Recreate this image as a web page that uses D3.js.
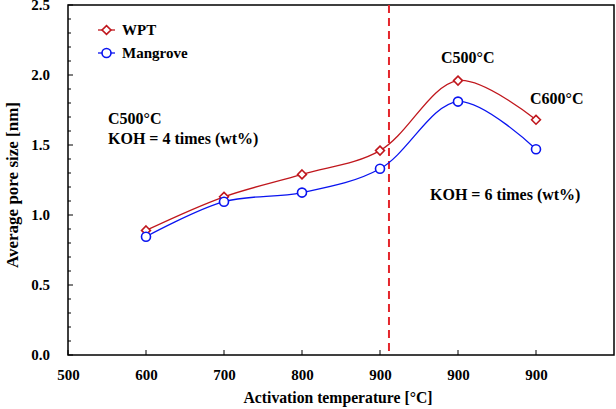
<!DOCTYPE html>
<html><head><meta charset="utf-8">
<script src="https://cdn.jsdelivr.net/npm/d3@7"></script>
<style>body{margin:0;background:#fff}svg{display:block}text{font-family:"Liberation Serif","Times New Roman",serif;font-weight:bold}</style>
</head><body>
<svg id="c" width="616" height="409"></svg>
<script>
const xValues = [600, 700, 800, 900, 1000, 1100];
const wpt = [0.89, 1.13, 1.29, 1.46, 1.96, 1.68];
const mangrove = [0.845, 1.095, 1.16, 1.33, 1.81, 1.47];
const xTickValues = [500, 600, 700, 800, 900, 1000, 1100];
const xTickLabels = ["500", "600", "700", "800", "900", "900", "900"];
const yTickValues = [0, 0.5, 1.0, 1.5, 2.0, 2.5];
const dividerX = 911.5;

const svg = d3.select("#c");
const L = 68, R = 614, T = 5, B = 355;
const x = d3.scaleLinear().domain([500, 1200]).range([L, R]);
const y = d3.scaleLinear().domain([0, 2.5]).range([B, T]);

// frame
svg.append("rect").attr("x", L).attr("y", T).attr("width", R - L).attr("height", B - T)
  .attr("fill", "none").attr("stroke", "#000").attr("stroke-width", 1.5);

// y axis
const yAx = svg.append("g").attr("transform", `translate(${L},0)`)
  .call(d3.axisLeft(y).tickValues(yTickValues).tickFormat(d3.format(".1f")).tickSize(0).tickPadding(18));
yAx.select(".domain").remove();
yAx.selectAll("text").attr("font-size", 15).attr("fill", "#000");
const yMinor = d3.range(0, 2.51, 0.1);
svg.append("g").selectAll("line").data(yMinor).join("line")
  .attr("x1", L).attr("x2", d => L + (Math.abs(d * 2 - Math.round(d * 2)) < 1e-6 ? 5 : 3))
  .attr("y1", d => y(d)).attr("y2", d => y(d)).attr("stroke", "#000").attr("stroke-width", 1);

// x axis
const xAx = svg.append("g").attr("transform", `translate(0,${B})`)
  .call(d3.axisBottom(x).tickValues(xTickValues).tickFormat((d, i) => xTickLabels[i]).tickSize(0).tickPadding(14));
xAx.select(".domain").remove();
xAx.selectAll("text").attr("font-size", 15).attr("fill", "#000");
svg.append("g").selectAll("line").data(xTickValues).join("line")
  .attr("x1", d => x(d)).attr("x2", d => x(d)).attr("y1", B).attr("y2", B - 5)
  .attr("stroke", "#000").attr("stroke-width", 1);

// axis titles
svg.append("text").attr("x", 338).attr("y", 403).attr("text-anchor", "middle")
  .attr("font-size", 15.7).text("Activation temperature [°C]");
svg.append("text").attr("transform", `translate(18,185) rotate(-90)`).attr("text-anchor", "middle")
  .attr("font-size", 17).text("Average pore size [nm]");

// divider
svg.append("line").attr("x1", x(dividerX)).attr("x2", x(dividerX)).attr("y1", T).attr("y2", B)
  .attr("stroke", "#e4262c").attr("stroke-width", 2).attr("stroke-dasharray", "8,5");

const line = d3.line().x((d, i) => x(xValues[i])).y(d => y(d)).curve(d3.curveCatmullRom.alpha(0.5));
const red = "#c0171d", blue = "#0a14f0";
svg.append("path").attr("d", line(wpt)).attr("fill", "none").attr("stroke", red).attr("stroke-width", 1.3);
svg.append("path").attr("d", line(mangrove)).attr("fill", "none").attr("stroke", blue).attr("stroke-width", 1.3);

const diamond = d3.symbol().type(d3.symbolDiamond2).size(50);
svg.append("g").selectAll("path").data(wpt).join("path")
  .attr("transform", (d, i) => `translate(${x(xValues[i])},${y(d)})`).attr("d", diamond())
  .attr("fill", "#fff").attr("stroke", red).attr("stroke-width", 1.6);
svg.append("g").selectAll("circle").data(mangrove).join("circle")
  .attr("cx", (d, i) => x(xValues[i])).attr("cy", d => y(d)).attr("r", 4.5)
  .attr("fill", "#fff").attr("stroke", blue).attr("stroke-width", 1.6);

// legend
const leg = [{n: "WPT", c: red, s: "d", yy: 30}, {n: "Mangrove", c: blue, s: "c", yy: 53}];
leg.forEach(l => {
  svg.append("line").attr("x1", 98).attr("x2", 115).attr("y1", l.yy).attr("y2", l.yy).attr("stroke", l.c).attr("stroke-width", 1.3);
  if (l.s === "d") svg.append("path").attr("transform", `translate(106.5,${l.yy})`).attr("d", diamond()).attr("fill", "#fff").attr("stroke", l.c).attr("stroke-width", 1.6);
  else svg.append("circle").attr("cx", 106.5).attr("cy", l.yy).attr("r", 4.5).attr("fill", "#fff").attr("stroke", l.c).attr("stroke-width", 1.6);
  svg.append("text").attr("x", 122).attr("y", l.yy + 5).attr("font-size", 15).text(l.n);
});

// annotations
const notes = [
  {t: "C500°C", x: 108, y: 124},
  {t: "KOH = 4 times (wt%)", x: 108, y: 144},
  {t: "C500°C", x: 441, y: 63},
  {t: "C600°C", x: 530, y: 104},
  {t: "KOH = 6 times (wt%)", x: 430, y: 200}
];
svg.append("g").selectAll("text").data(notes).join("text")
  .attr("x", d => d.x).attr("y", d => d.y).attr("font-size", 16).text(d => d.t);
</script>
</body></html>
